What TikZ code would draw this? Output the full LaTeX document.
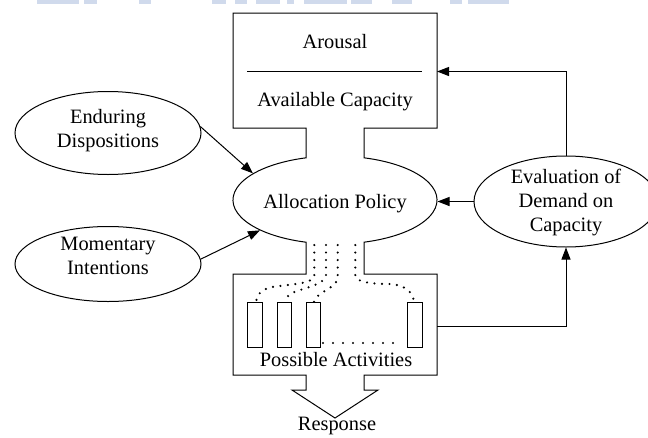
\documentclass[tikz,border=0pt]{standalone}
\usepackage{fontspec}
\setmainfont{Liberation Serif}
\usetikzlibrary{arrows.meta,shapes.geometric}
\begin{document}
\begin{tikzpicture}[x=1pt,y=-1pt,
  line width=1pt,
  txt/.style={font=\fontsize{20.4}{24}\selectfont, align=center, inner sep=0pt},
  oval/.style={draw, ellipse, inner sep=0pt},
  arr/.style={-{Triangle[length=12pt,width=9pt]}},
  dots/.style={line width=2.4pt, line cap=round, dash pattern=on 0pt off 7.5pt},
  widedots/.style={dots, dash pattern=on 0pt off 10pt},
  slot/.style={draw, line width=1pt},
  wm/.style={fill={rgb,255:red,208;green,218;blue,236}, draw=none}
]
\useasboundingbox (0,0) rectangle (648,437);

% faint band along the top edge
\foreach \a/\b in {37/79,84/97,139/151,212/226,235/247,256/280,287/294,304/347,351/372,392/412,450/462,468/509}
  \fill[wm] (\a,0) rectangle (\b,3.5);

% central outline: capacity box, allocation oval, activities box, response arrow
\draw (306,128) -- (233,128) -- (233,13) -- (437,13) -- (437,128) -- (364,128) -- (364,157.8)
  arc[start angle=73.5, end angle=-73.5, x radius=102pt, y radius=44pt]
  -- (364,274) -- (437,274) -- (437,375) -- (364,375) -- (364,390) -- (378,390)
  -- (335,418) -- (292,390) -- (306,390) -- (306,375) -- (233,375) -- (233,274)
  -- (306,274) -- (306,242.2)
  arc[start angle=-106.5, end angle=-253.5, x radius=102pt, y radius=44pt]
  -- cycle;
\draw (247,71) -- (422,71);

\node[ellipse, minimum width=204pt, minimum height=88pt, inner sep=0pt] (alloc) at (335,200) {};
\coordinate (capin) at (437,71.5);
\coordinate (actout) at (437,326);

\node[txt, anchor=base] (arousal) at (335,48) {Arousal};
\node[txt, anchor=base] (avail) at (335,106) {Available Capacity};
\node[txt, anchor=base] (alloctext) at (335,208) {Allocation Policy};
\node[txt, anchor=base] (possible) at (336,366.5) {Possible Activities};
\node[txt, anchor=base] (response) at (337,430.5) {Response};

% side ovals
\node[oval, minimum width=186pt, minimum height=83pt] (ed) at (108,133) {};
\node[txt] (edtext) at (108,130.2) {\strut Enduring\\\strut Dispositions};
\node[oval, minimum width=186pt, minimum height=75pt] (mi) at (108,264) {};
\node[txt] (mitext) at (108,257.7) {\strut Momentary\\\strut Intentions};
\node[oval, minimum width=184pt, minimum height=91pt] (eval) at (566,201.5) {};
\node[txt] (evaltext) at (566,202.2) {\strut Evaluation of\\\strut Demand on\\\strut Capacity};

% activity slots
\draw[slot] (247,302) rectangle (262,347);
\draw[slot] (277,302) rectangle (291,347);
\draw[slot] (306,302) rectangle (320,347);
\draw[slot] (407,302) rectangle (422,347);

% dotted allocation channels
\draw[dots] (314.3,245) -- (314.3,276) .. controls (312,284) and (292,284) .. (272,287) .. controls (262,289) and (256,295) .. (256,302);
\draw[dots] (326,245) -- (326,276) .. controls (324,285) and (300,289) .. (292,293) .. controls (288,295) and (286,298) .. (285,302);
\draw[dots] (337.7,245) -- (337.7,278) .. controls (336,289) and (317,291) .. (314,302);
\draw[dots] (355.3,245) -- (355.3,276) .. controls (357,282) and (370,284) .. (390,284) .. controls (405,285) and (413,292) .. (414,302);
\draw[widedots] (323,343) -- (403,343);

% connectors
\draw[arr] (ed.4) -- (alloc.162);
\draw[arr] (mi.3) -- (alloc.202);
\draw[arr] (eval.west) -- (eval.west -| alloc.east);
\draw[arr] (eval.north) |- (capin);
\draw[arr] (actout) -| (eval.south);
\end{tikzpicture}
\end{document}
